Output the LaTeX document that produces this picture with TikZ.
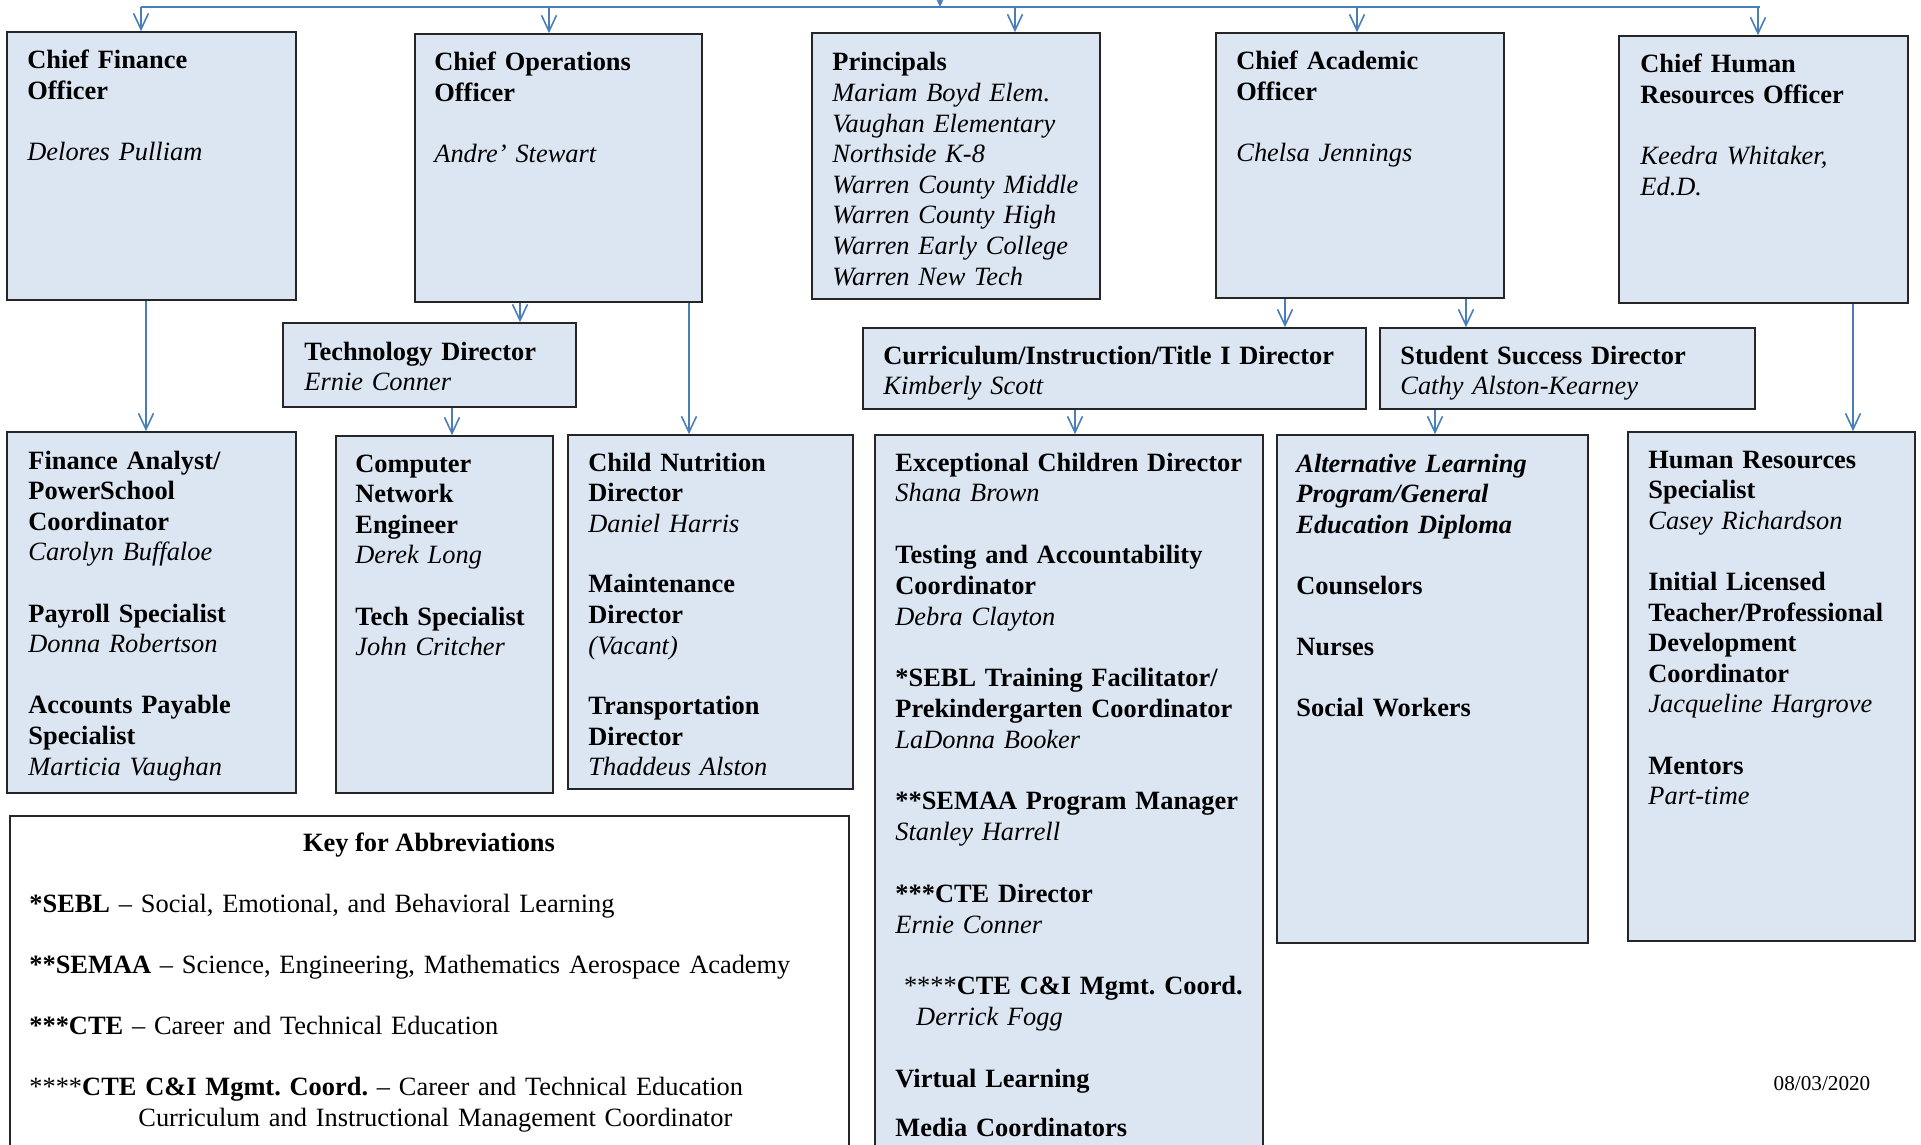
\documentclass[tikz,border=0pt]{standalone}
\usepackage{fontspec}
\setmainfont{Liberation Serif}
\usetikzlibrary{arrows.meta,fit}
\definecolor{boxfill}{HTML}{DCE6F2}
\definecolor{linkblue}{HTML}{4A7EBB}
\definecolor{boxline}{HTML}{262626}
\frenchspacing
\begin{document}
\begin{tikzpicture}[x=0.5pt,y=-0.5pt,
  box/.style={draw=boxline,line width=0.8pt,fill=boxfill,inner sep=0pt},
  keybox/.style={draw=black!85,line width=0.6pt,fill=white,inner sep=0pt},
  txt/.style={anchor=base west,inner sep=0pt,align=left,text width=260pt,font=\fontsize{13.2}{15.3}\selectfont\frenchspacing},
  link/.style={draw=linkblue,line width=0.8pt},
  arr/.style={link,-{Straight Barb[length=8pt,width=7.5pt,line width=0.8pt]}}]
\clip (0,0) rectangle (1921,1145);
\fill[white] (0,0) rectangle (1921,1145);
% boxes
\node[box,fit={(7,32)(296,300)}] (cfo) {};
\node[box,fit={(415,34)(702,302)}] (coo) {};
\node[box,fit={(812,33)(1100,299)}] (prin) {};
\node[box,fit={(1216,33)(1504,298)}] (cao) {};
\node[box,fit={(1619,36)(1908,303)}] (chro) {};
\node[box,fit={(283,323)(576,407)}] (tech) {};
\node[box,fit={(863,328)(1366,409)}] (curr) {};
\node[box,fit={(1380,328)(1755,409)}] (ss) {};
\node[box,fit={(7,432)(296,793)}] (fin) {};
\node[box,fit={(336,436)(553,793)}] (comp) {};
\node[box,fit={(568,435)(853,789)}] (cn) {};
\node[box,fit={(875,435)(1263,1170)}] (exc) {};
\node[box,fit={(1277,435)(1588,943)}] (alt) {};
\node[box,fit={(1628,432)(1915,941)}] (hr) {};
\node[keybox,fit={(10,816)(849,1170)}] (key) {};
% texts
\node[txt] (cfoT) at (27,69) {\textbf{Chief Finance}\\\textbf{Officer}\\[15.3pt]\textit{Delores Pulliam}};
\node[txt] (cooT) at (434,71) {\textbf{Chief Operations}\\\textbf{Officer}\\[15.3pt]\textit{Andre’ Stewart}};
\node[txt] (prinT) at (832,71) {\textbf{Principals}\\\textit{Mariam Boyd Elem.}\\\textit{Vaughan Elementary}\\\textit{Northside K-8}\\\textit{Warren County Middle}\\\textit{Warren County High}\\\textit{Warren Early College}\\\textit{Warren New Tech}};
\node[txt] (caoT) at (1236,70) {\textbf{Chief Academic}\\\textbf{Officer}\\[15.3pt]\textit{Chelsa Jennings}};
\node[txt] (chroT) at (1640,73) {\textbf{Chief Human}\\\textbf{Resources Officer}\\[15.3pt]\textit{Keedra Whitaker,}\\\textit{Ed.D.}};
\node[txt] (techT) at (304,360) {\textbf{Technology Director}\\\textit{Ernie Conner}};
\node[txt] (currT) at (883,364) {\textbf{Curriculum/Instruction/Title I Director}\\\textit{Kimberly Scott}};
\node[txt] (ssT) at (1400,364) {\textbf{Student Success Director}\\\textit{Cathy Alston-Kearney}};
\node[txt] (finT) at (28,469) {\textbf{Finance Analyst/}\\\textbf{PowerSchool}\\\textbf{Coordinator}\\\textit{Carolyn Buffaloe}\\[15.3pt]\textbf{Payroll Specialist}\\\textit{Donna Robertson}\\[15.3pt]\textbf{Accounts Payable}\\\textbf{Specialist}\\\textit{Marticia Vaughan}};
\node[txt] (compT) at (355,472) {\textbf{Computer}\\\textbf{Network}\\\textbf{Engineer}\\\textit{Derek Long}\\[15.3pt]\textbf{Tech Specialist}\\\textit{John Critcher}};
\node[txt] (cnT) at (588,471) {\textbf{Child Nutrition}\\\textbf{Director}\\\textit{Daniel Harris}\\[15pt]\textbf{Maintenance}\\\textbf{Director}\\\textit{(Vacant)}\\[15pt]\textbf{Transportation}\\\textbf{Director}\\\textit{Thaddeus Alston}};
\node[txt,font=\fontsize{13.2}{15.4}\selectfont\frenchspacing] (excT) at (895,471) {\textbf{Exceptional Children Director}\\\textit{Shana Brown}\\[15.4pt]\textbf{Testing and Accountability}\\\textbf{Coordinator}\\\textit{Debra Clayton}\\[15.4pt]\textbf{*SEBL Training Facilitator/}\\\textbf{Prekindergarten Coordinator}\\\textit{LaDonna Booker}\\[15.4pt]\textbf{**SEMAA Program Manager}\\\textit{Stanley Harrell}\\[15.4pt]\textbf{***CTE Director}\\\textit{Ernie Conner}\\[15.4pt]\hspace*{4.3pt}****\textbf{CTE C\&I Mgmt. Coord.}\\\hspace*{10.4pt}\textit{Derrick Fogg}\\[15.4pt]\textbf{Virtual Learning}\\[9.5pt]\textbf{Media Coordinators}};
\node[txt] (altT) at (1296,472) {\textbf{\textit{Alternative Learning}}\\\textbf{\textit{Program/General}}\\\textbf{\textit{Education Diploma}}\\[15.3pt]\textbf{Counselors}\\[15.3pt]\textbf{Nurses}\\[15.3pt]\textbf{Social Workers}};
\node[txt] (hrT) at (1648,468) {\textbf{Human Resources}\\\textbf{Specialist}\\\textit{Casey Richardson}\\[15.3pt]\textbf{Initial Licensed}\\\textbf{Teacher/Professional}\\\textbf{Development}\\\textbf{Coordinator}\\\textit{Jacqueline Hargrove}\\[15.3pt]\textbf{Mentors}\\\textit{Part-time}};
\node[anchor=base,inner sep=0pt,font=\fontsize{13.2}{15.3}\selectfont\bfseries] (keyTitle) at (429,851) {Key for Abbreviations};
\node[txt,text width=420pt] (keyT) at (29,912) {\textbf{*SEBL} – Social, Emotional, and Behavioral Learning\\[15.3pt]\textbf{**SEMAA} – Science, Engineering, Mathematics Aerospace Academy\\[15.3pt]\textbf{***CTE} – Career and Technical Education\\[15.3pt]****\textbf{CTE C\&I Mgmt. Coord.} – Career and Technical Education\\\hspace*{54.5pt}Curriculum and Instructional Management Coordinator};
\node[anchor=base,inner sep=0pt,font=\fontsize{10.6}{12}\selectfont] (date) at (1822,1090) {08/03/2020};
% connector columns
\coordinate (top) at (940,-20);
\coordinate (busL) at (141,7);
\coordinate (busR) at (1760,7);
\coordinate (bCoo) at (549,7);
\coordinate (bTop) at (940,7);
\coordinate (bPrin) at (1015,7);
\coordinate (bCao) at (1357,7);
\coordinate (bChro) at (1758,7);
\coordinate (xFin) at (146,0);
\coordinate (xTech) at (520,0);
\coordinate (xCn) at (689,0);
\coordinate (xComp) at (452,0);
\coordinate (xCurr) at (1285,0);
\coordinate (xSs) at (1466,0);
\coordinate (xExc) at (1075,0);
\coordinate (xAlt) at (1435,0);
\coordinate (xHr) at (1853,0);
% connectors
\draw[link] (busL) -- (busR);
\draw[arr] (top) -- (bTop);
\draw[arr] (busL) -- (cfo.north -| busL);
\draw[arr] (bCoo) -- (coo.north -| bCoo);
\draw[arr] (bPrin) -- (prin.north -| bPrin);
\draw[arr] (bCao) -- (cao.north -| bCao);
\draw[arr] (bChro) -- (chro.north -| bChro);
\draw[arr] (coo.south -| xTech) -- (tech.north -| xTech);
\draw[arr] (cfo.south -| xFin) -- (fin.north -| xFin);
\draw[arr] (coo.south -| xCn) -- (cn.north -| xCn);
\draw[arr] (tech.south -| xComp) -- (comp.north -| xComp);
\draw[arr] (cao.south -| xCurr) -- (curr.north -| xCurr);
\draw[arr] (cao.south -| xSs) -- (ss.north -| xSs);
\draw[arr] (curr.south -| xExc) -- (exc.north -| xExc);
\draw[arr] (ss.south -| xAlt) -- (alt.north -| xAlt);
\draw[arr] (chro.south -| xHr) -- (hr.north -| xHr);
\end{tikzpicture}
\end{document}
